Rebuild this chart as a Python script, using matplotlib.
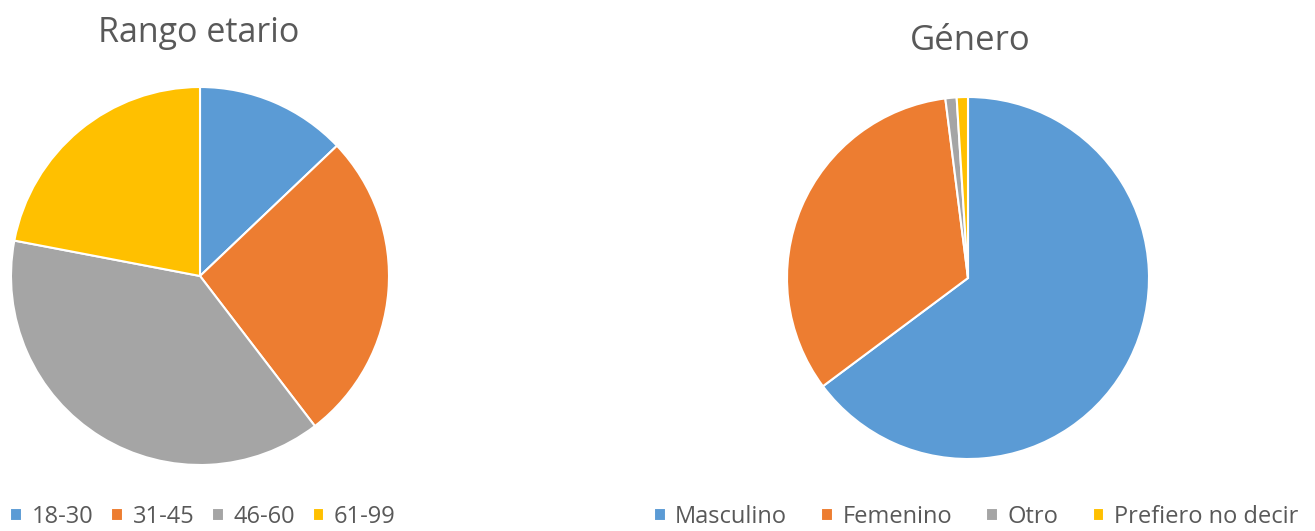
import matplotlib.pyplot as plt

# datos
edad_labels = ['18-30', '31-45', '46-60', '61-99']
edad_vals = [12.9, 26.7, 38.4, 22.0]

genero_labels = ['Masculino', 'Femenino', 'Otro', 'Prefiero no decir']
genero_vals = [64.8, 33.2, 1.0, 1.0]

colores = ['#5B9BD5', '#ED7D31', '#A5A5A5', '#FFC000']
gris_texto = '#595959'

plt.rcParams['font.family'] = ['Open Sans', 'DejaVu Sans']

W, H = 1315, 531
fig = plt.figure(figsize=(W / 100, H / 100), dpi=100)
ax = fig.add_axes([0, 0, 1, 1])

# pie izquierdo
w1, _ = ax.pie(edad_vals, colors=colores, startangle=90, counterclock=False,
               center=(200, H - 276), radius=189, frame=True,
               wedgeprops=dict(edgecolor='white', linewidth=1.5))
# pie derecho
w2, _ = ax.pie(genero_vals, colors=colores, startangle=90, counterclock=False,
               center=(968, H - 278), radius=181, frame=True,
               wedgeprops=dict(edgecolor='white', linewidth=1.5))

ax.set_xlim(0, W)
ax.set_ylim(0, H)
ax.axis('off')

ax.text(199, H - 42, 'Rango etario', ha='center', va='baseline',
        fontsize=24.5, color=gris_texto)
ax.text(970, H - 50, 'Género', ha='center', va='baseline',
        fontsize=25, color=gris_texto)

kw = dict(ncol=4, frameon=False, fontsize=17, handlelength=0.5,
          handleheight=0.5, handletextpad=0.4, labelcolor=gris_texto,
          loc='center')
fig.legend(w1, edad_labels, bbox_to_anchor=(203 / W, 1 - 517 / H),
           columnspacing=0.75, **kw)
fig.legend(w2, genero_labels, bbox_to_anchor=(976 / W, 1 - 517 / H),
           columnspacing=1.45, **kw)

fig.savefig('out.png', dpi=100)
